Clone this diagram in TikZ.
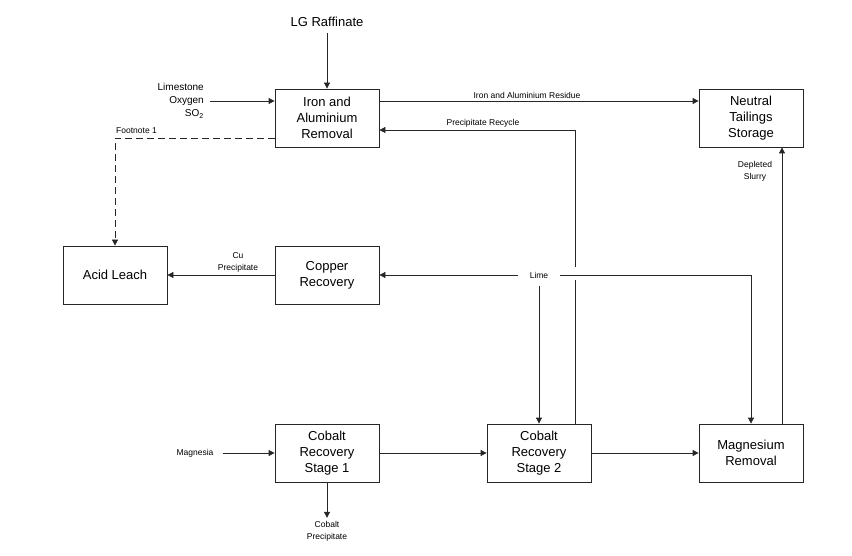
\documentclass[tikz,border=0pt]{standalone}
\usepackage{fontspec}
\setmainfont{Liberation Sans}
\usetikzlibrary{arrows.meta}
\begin{document}
\begin{tikzpicture}[x=1pt,y=-1pt,
  box/.style={draw=black!85, line width=0.8pt, minimum width=104pt, minimum height=58pt, align=center, font=\fontsize{13}{16}\selectfont, inner sep=0pt},
  lbl/.style={font=\fontsize{8.5}{12}\selectfont, align=center, inner sep=0pt},
  flow/.style={draw=black!85, line width=0.8pt, -{Triangle[length=6pt,width=6pt]}},
  plain/.style={draw=black!85, line width=0.8pt}]
\useasboundingbox (0,0) rectangle (852,556);

\node[box] (iron) at (327,118) {Iron and\\Aluminium\\Removal};
\node[box] (nts) at (751,118) {Neutral\\Tailings\\Storage};
\node[box] (acid) at (115,275) {Acid Leach};
\node[box] (cu) at (327,275) {Copper\\Recovery};
\node[box] (co1) at (327,453) {Cobalt\\Recovery\\Stage 1};
\node[box] (co2) at (539,453) {Cobalt\\Recovery\\Stage 2};
\node[box] (mg) at (751,453) {Magnesium\\Removal};

% LG Raffinate
\node[font=\fontsize{13}{16}\selectfont, inner sep=0pt] (lg) at (327,22) {LG Raffinate};
\coordinate (lgb) at (327,33);
\draw[flow] (lgb) -- (iron.north);

% Limestone etc.
\node[font=\fontsize{10}{13}\selectfont, align=right, anchor=east, inner sep=0pt] (lim) at (204,101) {Limestone\\Oxygen\\SO\textsubscript{2}};
\draw[flow] ([xshift=6pt]lim.east) -- (lim.east -| iron.west);

% Footnote dashed
\node[lbl, anchor=west] (fn) at (116,131) {Footnote 1};
\draw[flow, dash pattern=on 7pt off 4pt] ([yshift=-20pt]iron.west) -| (acid.north);

% Iron and Aluminium Residue
\draw[flow] ([yshift=17pt]iron.east) -- ([yshift=17pt]nts.west);
\node[lbl] (iar) at (527,95) {Iron and Aluminium Residue};

% Precipitate Recycle
\coordinate (gapb) at (575,280);
\coordinate (gapt) at (575,267);
\coordinate (prtop) at (575,130);
\draw[plain] ([xshift=36pt]co2.north) -- (gapb);
\draw[flow] (gapt) -- (prtop) -- ([yshift=-12pt]iron.east);
\node[lbl] (prl) at (483,123) {Precipitate Recycle};

% Lime
\node[lbl, inner xsep=12pt] (lime) at (539,275) {Lime};
\draw[flow] (lime.west) -- (cu.east);
\draw[flow] (lime.east) -| (mg.north);
\draw[flow] ([yshift=-8pt]lime.south) -- (co2.north);

% Depleted Slurry
\draw[flow] ([xshift=31pt]mg.north) -- ([xshift=31pt]nts.south);
\node[lbl] (ds) at (755,171) {Depleted\\Slurry};

% Cu Precipitate
\draw[flow] (cu.west) -- (acid.east);
\node[lbl] (cup) at (238,262) {Cu\\Precipitate};

% Magnesia
\node[lbl] (mgs) at (195,453) {Magnesia};
\draw[flow] ([xshift=9pt]mgs.east) -- (co1.west);

% Cobalt chain
\draw[flow] (co1.east) -- (co2.west);
\draw[flow] (co2.east) -- (mg.west);

% Cobalt Precipitate
\node[lbl] (cop) at (327,531) {Cobalt\\Precipitate};
\draw[flow] (co1.south) -- ([yshift=3pt]cop.north);
\end{tikzpicture}
\end{document}
